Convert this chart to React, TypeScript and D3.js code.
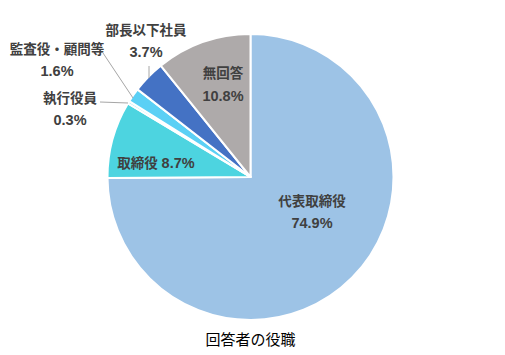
import { useMemo } from "react"
import { pie, arc } from "d3"

const categories = ["代表取締役", "取締役", "執行役員", "監査役・顧問等", "部長以下社員", "無回答"]
const values = [74.9, 8.7, 0.3, 1.6, 3.7, 10.8]
const colors = ["#9DC3E6", "#4DD4E0", "#A6E8F0", "#5BD0F5", "#4472C4", "#AEAAAA"]
const title = "回答者の役職"

// label layout: [x, y of name line, y of value line]; inline = name and value on one line
const labelPos: { x: number; y1: number; y2: number; inline?: boolean }[] = [
  { x: 312, y1: 201, y2: 223 },
  { x: 156, y1: 163, y2: 163, inline: true },
  { x: 70, y1: 98, y2: 120 },
  { x: 57, y1: 49, y2: 71 },
  { x: 146, y1: 30, y2: 52 },
  { x: 223, y1: 73, y2: 96 },
]
// leader lines for the small outside slices
const leaders: Record<number, [number, number][]> = {
  2: [[100, 102], [128, 103]],
  3: [[103, 53], [133, 98]],
  4: [[149, 66], [149, 78]],
}

export default function App() {
  const W = 505
  const H = 355
  const cx = 250.5
  const cy = 177
  const R = 143

  const arcs = useMemo(
    () => pie<number>().sort(null).value((d) => d)(values),
    []
  )
  const arcGen = arc<any>().innerRadius(0).outerRadius(R)

  const font = "'Liberation Sans', 'Noto Sans CJK JP', sans-serif"
  const numSize = 14.5

  return (
    <svg width={W} height={H} style={{ position: "absolute", left: 0, top: 0, background: "#fff" }}>
      <g transform={`translate(${cx},${cy})`}>
        {arcs.map((a, i) => (
          <path key={i} d={arcGen(a) || ""} fill={colors[i]} stroke="#fff" strokeWidth={2} strokeLinejoin="round" />
        ))}
      </g>
      {Object.entries(leaders).map(([k, pts]) => (
        <polyline
          key={k}
          points={pts.map((p) => p.join(",")).join(" ")}
          fill="none"
          stroke="#A6A6A6"
          strokeWidth={1}
        />
      ))}
      {categories.map((c, i) => {
        const p = labelPos[i]
        const t = `${values[i].toFixed(1)}%`
        return p.inline ? (
          <text key={i} x={p.x} y={p.y1} textAnchor="middle" dominantBaseline="central"
            fontFamily={font} fontSize={13.5} fontWeight="bold" fill="#404040">
            {c} <tspan fontSize={numSize}>{t}</tspan>
          </text>
        ) : (
          <g key={i} fontFamily={font} fontSize={13.5} fontWeight="bold" fill="#404040" textAnchor="middle">
            <text x={p.x} y={p.y1} dominantBaseline="central">{c}</text>
            <text x={p.x} y={p.y2} dominantBaseline="central" fontSize={numSize}>{t}</text>
          </g>
        )
      })}
      <text x={cx} y={339} textAnchor="middle" dominantBaseline="central" fontFamily={font} fontSize={15} fill="#000">
        {title}
      </text>
    </svg>
  )
}
